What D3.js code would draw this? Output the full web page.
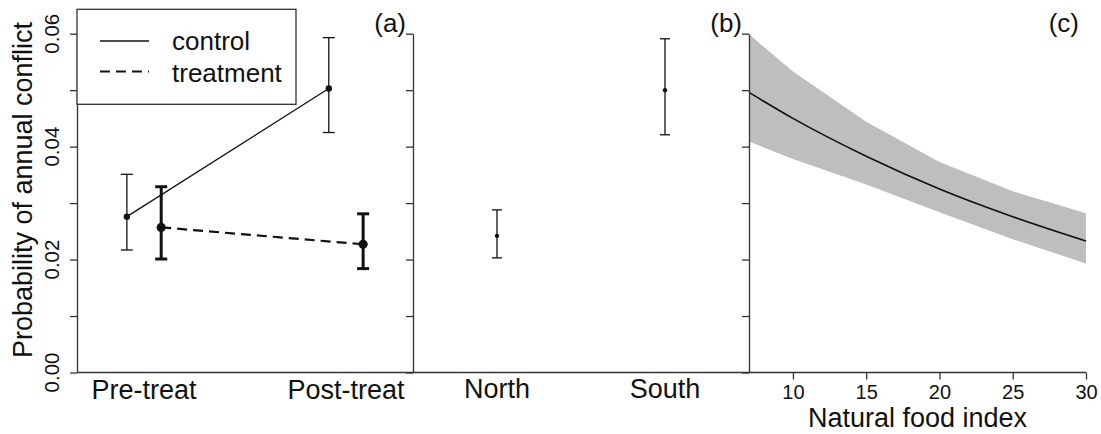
<!DOCTYPE html>
<html>
<head>
<meta charset="utf-8">
<script src="https://cdn.jsdelivr.net/npm/d3@7"></script>
<style>
  body { margin: 0; background: #fff; }
  svg { display: block; font-family: "Liberation Sans", Arial, Helvetica, sans-serif; }
</style>
</head>
<body>
<svg id="chart" width="1101" height="434"></svg>
<script>
// ---------- data ----------
const yTickValues = [0, 0.01, 0.02, 0.03, 0.04, 0.05, 0.06];
const yTickLabels = ["0.00", "", "0.02", "", "0.04", "", "0.06"];
const yTitle = "Probability of annual conflict";

// panel (a)
const periods = ["Pre-treat", "Post-treat"];
const controlMean = [0.0276, 0.0503];
const controlLo   = [0.0217, 0.0425];
const controlHi   = [0.0351, 0.0593];
const treatMean   = [0.0257, 0.0227];
const treatLo     = [0.0201, 0.0184];
const treatHi     = [0.0329, 0.0281];
const legendLabels = ["control", "treatment"];

// panel (b)
const regions    = ["North", "South"];
const regionMean = [0.0242, 0.0500];
const regionLo   = [0.0203, 0.0421];
const regionHi   = [0.0288, 0.0591];

// panel (c)
const foodIndex = [7, 10, 15, 20, 25, 30];
const foodFit   = [0.0496, 0.0450, 0.0383, 0.0325, 0.0276, 0.0233];
const foodUpper = [0.0599, 0.0533, 0.0444, 0.0373, 0.0321, 0.0282];
const foodLower = [0.0409, 0.0378, 0.0333, 0.0284, 0.0236, 0.0193];
const foodTicks = [10, 15, 20, 25, 30];
const foodTitle = "Natural food index";

const panelTags = ["(a)", "(b)", "(c)"];

// ---------- layout ----------
const svg = d3.select("#chart");
const plotTop = 33.7, plotBottom = 372.5;
const panelX = [[77, 413], [413, 749], [749, 1086]];
const axisCol = "#333";

const y = d3.scaleLinear().domain([0, 0.06]).range([plotBottom, plotTop]);

function drawFrame(i, withLabels) {
  const [x0, x1] = panelX[i];
  const g = svg.append("g");
  g.append("line").attr("x1", x0).attr("x2", x1).attr("y1", plotBottom).attr("y2", plotBottom)
    .attr("stroke", axisCol).attr("stroke-width", 1.3);
  const ax = g.append("g").attr("transform", `translate(${x0},0)`)
    .call(d3.axisLeft(y).tickValues(yTickValues).tickSize(7).tickSizeOuter(0).tickFormat(""));
  ax.selectAll("path,line").attr("stroke", axisCol).attr("stroke-width", 1.3);
  if (withLabels) {
    yTickValues.forEach((v, k) => {
      if (!yTickLabels[k]) return;
      svg.append("text")
        .attr("transform", `translate(58.5,${y(v)}) rotate(-90)`)
        .attr("text-anchor", "middle").attr("font-size", 20.5).attr("fill", "#111")
        .text(yTickLabels[k]);
    });
  }
  svg.append("text").attr("x", x1 - 7).attr("y", 32).attr("text-anchor", "end")
    .attr("font-size", 26).attr("fill", "#111").text(panelTags[i]);
}

// ---------- panel (c) band first (under axis) ----------
const xc = d3.scaleLinear().domain([7, 30]).range(panelX[2]);
const bandData = foodIndex.map((f, k) => ({ f, lo: foodLower[k], hi: foodUpper[k], m: foodFit[k] }));
svg.append("path").datum(bandData)
  .attr("d", d3.area().x(d => xc(d.f)).y0(d => y(d.lo)).y1(d => y(d.hi)))
  .attr("fill", "#bebebe");
svg.append("path").datum(bandData)
  .attr("d", d3.line().x(d => xc(d.f)).y(d => y(d.m)).curve(d3.curveMonotoneX))
  .attr("fill", "none").attr("stroke", "#111").attr("stroke-width", 1.6);

drawFrame(0, true);
drawFrame(1, false);
drawFrame(2, false);

svg.append("text").attr("transform", "translate(32,190) rotate(-90)")
  .attr("text-anchor", "middle").attr("font-size", 27).attr("fill", "#111").text(yTitle);

// ---------- panel (a) ----------
const xa = d3.scaleLinear().domain([0.668, 2.332]).range(panelX[0]);
const off = 0.085;
periods.forEach((p, k) => {
  svg.append("text").attr("x", xa(k + 1)).attr("y", 399).attr("text-anchor", "middle")
    .attr("font-size", 27).attr("fill", "#111").text(p);
});

function errBar(xpos, lo, hi, cap, sw) {
  const g = svg.append("g").attr("stroke", "#111").attr("stroke-width", sw);
  g.append("line").attr("x1", xpos).attr("x2", xpos).attr("y1", y(lo)).attr("y2", y(hi));
  g.append("line").attr("x1", xpos - cap / 2).attr("x2", xpos + cap / 2).attr("y1", y(lo)).attr("y2", y(lo));
  g.append("line").attr("x1", xpos - cap / 2).attr("x2", xpos + cap / 2).attr("y1", y(hi)).attr("y2", y(hi));
}

const ctrlPts = controlMean.map((m, k) => [xa(k + 1 - off), y(m)]);
svg.append("path").attr("d", d3.line()(ctrlPts)).attr("fill", "none")
  .attr("stroke", "#111").attr("stroke-width", 1.3);
controlMean.forEach((m, k) => {
  errBar(xa(k + 1 - off), controlLo[k], controlHi[k], 12, 1.3);
  svg.append("circle").attr("cx", xa(k + 1 - off)).attr("cy", y(m)).attr("r", 3.2).attr("fill", "#111");
});
const trtPts = treatMean.map((m, k) => [xa(k + 1 + off), y(m)]);
svg.append("path").attr("d", d3.line()(trtPts)).attr("fill", "none")
  .attr("stroke", "#111").attr("stroke-width", 2.2).attr("stroke-dasharray", "10,6");
treatMean.forEach((m, k) => {
  errBar(xa(k + 1 + off), treatLo[k], treatHi[k], 12, 3);
  svg.append("circle").attr("cx", xa(k + 1 + off)).attr("cy", y(m)).attr("r", 4.6).attr("fill", "#111");
});

// legend
const lg = svg.append("g");
lg.append("rect").attr("x", 77).attr("y", 9.3).attr("width", 219).attr("height", 95)
  .attr("fill", "#fff").attr("stroke", axisCol).attr("stroke-width", 1.3);
lg.append("line").attr("x1", 100).attr("x2", 149).attr("y1", 41).attr("y2", 41)
  .attr("stroke", "#111").attr("stroke-width", 1.3);
lg.append("line").attr("x1", 100).attr("x2", 149).attr("y1", 71.5).attr("y2", 71.5)
  .attr("stroke", "#111").attr("stroke-width", 2.2).attr("stroke-dasharray", "10,6");
lg.append("text").attr("x", 172).attr("y", 50).attr("font-size", 26).attr("fill", "#111").text(legendLabels[0]);
lg.append("text").attr("x", 172).attr("y", 81.5).attr("font-size", 26).attr("fill", "#111").text(legendLabels[1]);

// ---------- panel (b) ----------
const xb = d3.scaleLinear().domain([0.5, 2.5]).range(panelX[1]);
regions.forEach((r, k) => {
  svg.append("text").attr("x", xb(k + 1)).attr("y", 398).attr("text-anchor", "middle")
    .attr("font-size", 27).attr("fill", "#111").text(r);
  errBar(xb(k + 1), regionLo[k], regionHi[k], 10, 1.3);
  svg.append("circle").attr("cx", xb(k + 1)).attr("cy", y(regionMean[k])).attr("r", 2.2).attr("fill", "#111");
});

// ---------- panel (c) axis ----------
const axc = svg.append("g").attr("transform", `translate(0,${plotBottom})`)
  .call(d3.axisBottom(xc).tickValues(foodTicks).tickSize(7).tickSizeOuter(0));
axc.select(".domain").remove();
axc.selectAll("line").attr("stroke", axisCol).attr("stroke-width", 1.3);
axc.selectAll("text").attr("font-size", 20).attr("fill", "#111").attr("dy", null).attr("y", 26)
  .attr("font-family", "'Liberation Sans', Arial, sans-serif");
svg.append("text").attr("x", (panelX[2][0] + panelX[2][1]) / 2).attr("y", 427)
  .attr("text-anchor", "middle").attr("font-size", 27).attr("fill", "#111").text(foodTitle);
</script>
</body>
</html>
